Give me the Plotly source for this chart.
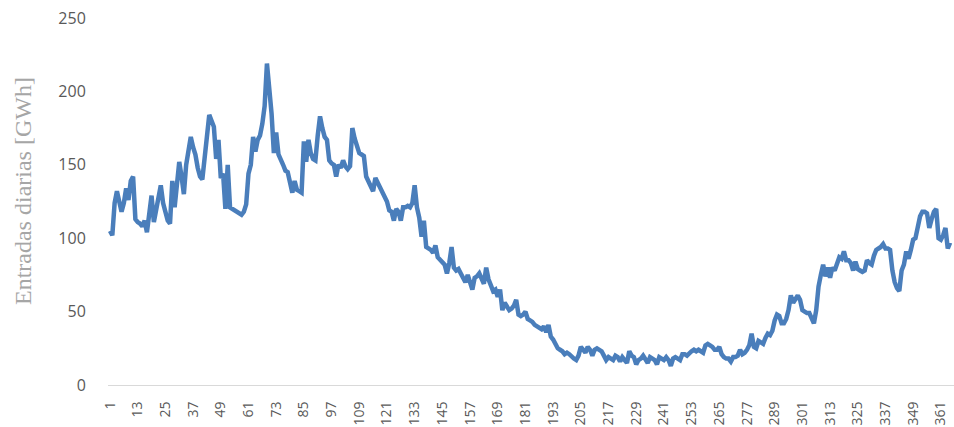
import plotly.graph_objects as go

# Daily inflows (GWh), day 1..365
entradas = [
    105, 102, 124, 132, 125, 118, 124, 134, 126, 139, 142, 113,
    111, 110, 108, 112, 104, 118, 129, 111, 120, 130, 136, 124,
    117, 112, 110, 139, 121, 140, 152, 142, 130, 150, 160, 169,
    162, 157, 148, 142, 140, 155, 172, 184, 180, 176, 154, 167,
    141, 144, 120, 150, 121, 120, 119, 118, 117, 116, 118, 123,
    144, 150, 169, 159, 167, 170, 178, 190, 219, 205, 185, 158,
    172, 157, 154, 150, 146, 145, 138, 131, 139, 133, 132, 131,
    166, 152, 167, 158, 154, 153, 170, 183, 175, 169, 167, 153,
    151, 150, 142, 150, 148, 153, 149, 147, 149, 175, 168, 162,
    158, 157, 156, 142, 138, 134, 132, 141, 138, 135, 131, 129,
    125, 119, 118, 112, 120, 118, 112, 121, 121, 122, 121, 124,
    136, 121, 114, 101, 112, 94, 93, 92, 90, 95, 87, 85,
    84, 82, 76, 83, 94, 80, 78, 79, 76, 73, 70, 75,
    70, 65, 73, 74, 76, 72, 69, 80, 72, 68, 64, 65,
    60, 65, 51, 56, 53, 51, 52, 54, 58, 48, 47, 48,
    50, 45, 44, 43, 41, 40, 39, 38, 40, 36, 41, 33,
    31, 28, 25, 24, 23, 21, 22, 21, 19, 18, 17, 20,
    26, 24, 22, 26, 24, 20, 24, 25, 24, 23, 20, 17,
    19, 18, 17, 20, 19, 16, 19, 17, 15, 23, 20, 19,
    14, 17, 18, 20, 17, 15, 19, 18, 17, 14, 19, 18,
    17, 19, 17, 13, 18, 19, 18, 17, 21, 21, 20, 22,
    23, 24, 23, 24, 23, 22, 27, 28, 27, 26, 24, 24,
    26, 21, 19, 18, 18, 16, 19, 19, 20, 24, 21, 22,
    24, 27, 35, 26, 25, 30, 29, 28, 32, 35, 34, 37,
    44, 48, 47, 42, 42, 45, 51, 61, 56, 58, 61, 58,
    51, 50, 49, 49, 46, 42, 51, 67, 75, 82, 74, 80,
    73, 80, 78, 84, 87, 86, 91, 85, 85, 83, 78, 84,
    79, 78, 77, 78, 85, 83, 82, 88, 92, 93, 94, 96,
    93, 93, 92, 78, 70, 66, 64, 78, 82, 91, 86, 92,
    99, 100, 108, 115, 118, 118, 117, 107, 113, 118, 120, 100,
    99, 102, 107, 93, 97,
]
dias = list(range(1, len(entradas) + 1))

x_ticks = list(range(1, 366, 12))
x_tick_labels = [str(t) for t in x_ticks]
y_ticks = [0, 50, 100, 150, 200, 250]
y_title = "Entradas diarias [GWh]"

fig = go.Figure()
fig.add_trace(go.Scatter(
    x=dias, y=entradas, mode="lines",
    line=dict(color="#4a7ebb", width=4.5),
    hoverinfo="x+y", showlegend=False, cliponaxis=False,
))

fig.update_layout(
    width=954, height=427,
    margin=dict(l=108, r=0, t=18, b=42, autoexpand=False),
    paper_bgcolor="white", plot_bgcolor="white",
    font=dict(family="Open Sans", color="#595959"),
    xaxis=dict(
        range=[0.13, 366.7], automargin=False,
        tickmode="array", tickvals=x_ticks, ticktext=x_tick_labels,
        tickangle=-90, tickfont=dict(size=14, color="#595959"),
        showgrid=False, zeroline=False,
        showline=True, linecolor="#d9d9d9", linewidth=1,
        ticks="outside", ticklen=10, tickcolor="rgba(0,0,0,0)",
    ),
    yaxis=dict(
        range=[0, 250], automargin=False,
        tickmode="array", tickvals=y_ticks,
        tickfont=dict(size=16, color="#595959"),
        showgrid=False, zeroline=False, showline=False,
        ticks="outside", ticklen=18, tickcolor="rgba(0,0,0,0)",
    ),
    annotations=[dict(
        text=y_title, textangle=-90,
        xref="paper", yref="paper",
        x=(23 - 108) / 846, y=(385 - 191) / 367,
        xanchor="center", yanchor="middle", showarrow=False,
        font=dict(family="Liberation Serif", size=24, color="#a6a6a6"),
    )],
)

fig.write_html(
    "out.html",
    config={"displayModeBar": False},
    post_script=(
        "document.body.style.margin='0';"
        "document.body.style.padding='0';"
        "document.body.style.overflow='hidden';"
    ),
)
